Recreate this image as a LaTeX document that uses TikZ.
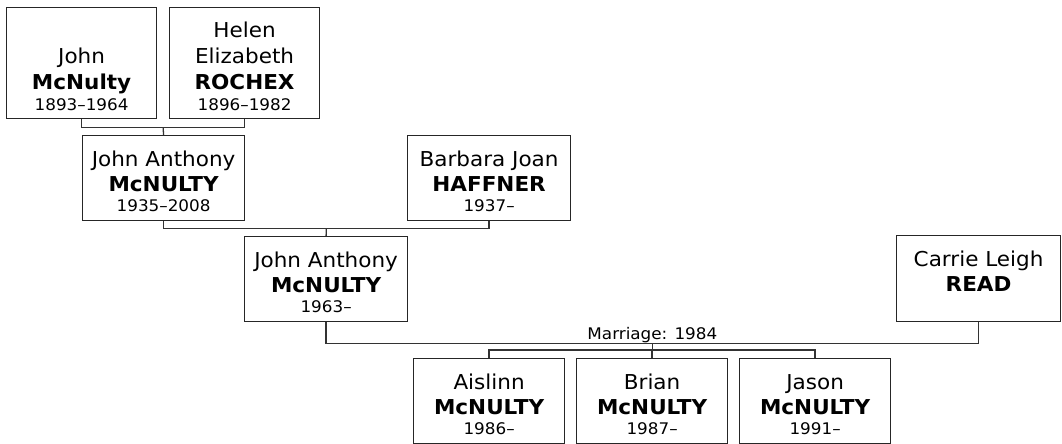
\documentclass[tikz,border=0pt]{standalone}
\usepackage{fontspec}
\setmainfont{DejaVu Sans}[FakeStretch=1.05]
\usetikzlibrary{calc}
\newcommand\nm{\fontsize{20.5}{24}\selectfont}
\newcommand\yr{\fontsize{16}{19}\selectfont}
\tikzset{
  box/.style={draw=black!85, line width=1.2pt, fill=white, inner sep=0pt, anchor=north west},
  conn/.style={draw=black!80, line width=1.3pt},
  txt/.style={anchor=base, inner sep=0pt}
}
% \pbox{name}{x}{ytop}{w}{h}
\newcommand\pbox[5]{\node[box, minimum width=#4pt, minimum height=#5pt] (#1) at (#2,#3) {};}
% \pline{node}{offset above bottom}{text}
\newcommand\pline[3]{\node[txt] at ($(#1.south)+(0,-#2)$) {#3};}
\begin{document}
\begin{tikzpicture}[x=1pt,y=-1pt]
\useasboundingbox (0,0) rectangle (1062,444);
% generation 1
\pbox{jmc}{6}{7}{150}{111}
\pline{jmc}{56}{\nm John}
\pline{jmc}{30}{\nm\bfseries McNulty}
\pline{jmc}{8.5}{\yr 1893–1964}
\pbox{hel}{169}{7}{150}{111}
\pline{hel}{82}{\nm Helen}
\pline{hel}{56}{\nm Elizabeth}
\pline{hel}{30}{\nm\bfseries ROCHEX}
\pline{hel}{8.5}{\yr 1896–1982}
% generation 2
\pbox{jaa}{82}{135}{162}{85}
\pline{jaa}{55}{\nm John Anthony}
\pline{jaa}{30}{\nm\bfseries McNULTY}
\pline{jaa}{9.5}{\yr 1935–2008}
\pbox{bjh}{407}{135}{163}{85}
\pline{bjh}{55}{\nm Barbara Joan}
\pline{bjh}{30}{\nm\bfseries HAFFNER}
\pline{bjh}{9.5}{\yr 1937–}
% generation 3
\pbox{jab}{244}{236}{163}{85}
\pline{jab}{55}{\nm John Anthony}
\pline{jab}{30}{\nm\bfseries McNULTY}
\pline{jab}{9.5}{\yr 1963–}
\pbox{clr}{896}{235}{164}{86}
\pline{clr}{56}{\nm Carrie Leigh}
\pline{clr}{31}{\nm\bfseries READ}
% generation 4
\pbox{aisl}{413}{358}{151}{85}
\pline{aisl}{55}{\nm Aislinn}
\pline{aisl}{30}{\nm\bfseries McNULTY}
\pline{aisl}{9.5}{\yr 1986–}
\pbox{brian}{576}{358}{151}{85}
\pline{brian}{55}{\nm Brian}
\pline{brian}{30}{\nm\bfseries McNULTY}
\pline{brian}{9.5}{\yr 1987–}
\pbox{jason}{739}{358}{151}{85}
\pline{jason}{55}{\nm Jason}
\pline{jason}{30}{\nm\bfseries McNULTY}
\pline{jason}{9.5}{\yr 1991–}
% connectors
\draw[conn] (jmc.south) -- ++(0,8) -| (hel.south);
\coordinate (m1) at ($(jmc.south)!0.5!(hel.south)+(0,8)$);
\draw[conn] (m1) -- (jaa.north);
\draw[conn] (jaa.south) -- ++(0,7) -| (bjh.south);
\coordinate (m2) at ($(jaa.south)!0.5!(bjh.south)+(0,7)$);
\draw[conn] (m2) -- (jab.north);
\draw[conn] (jab.south) -- ++(0,21) -| (clr.south);
\coordinate (m3) at ($(jab.south)!0.5!(clr.south)+(0,21)$);
\node[txt] (mlab) at ($(m3)+(0,-4)$) {\yr Marriage: 1984};
\coordinate (m4) at ($(m3)+(0,7)$);
\draw[conn] (m3) -- (m4);
\draw[conn] (aisl.north) -- ++(0,-8) -| (jason.north);
\draw[conn] (brian.north) -- ++(0,-8);
\end{tikzpicture}
\end{document}
